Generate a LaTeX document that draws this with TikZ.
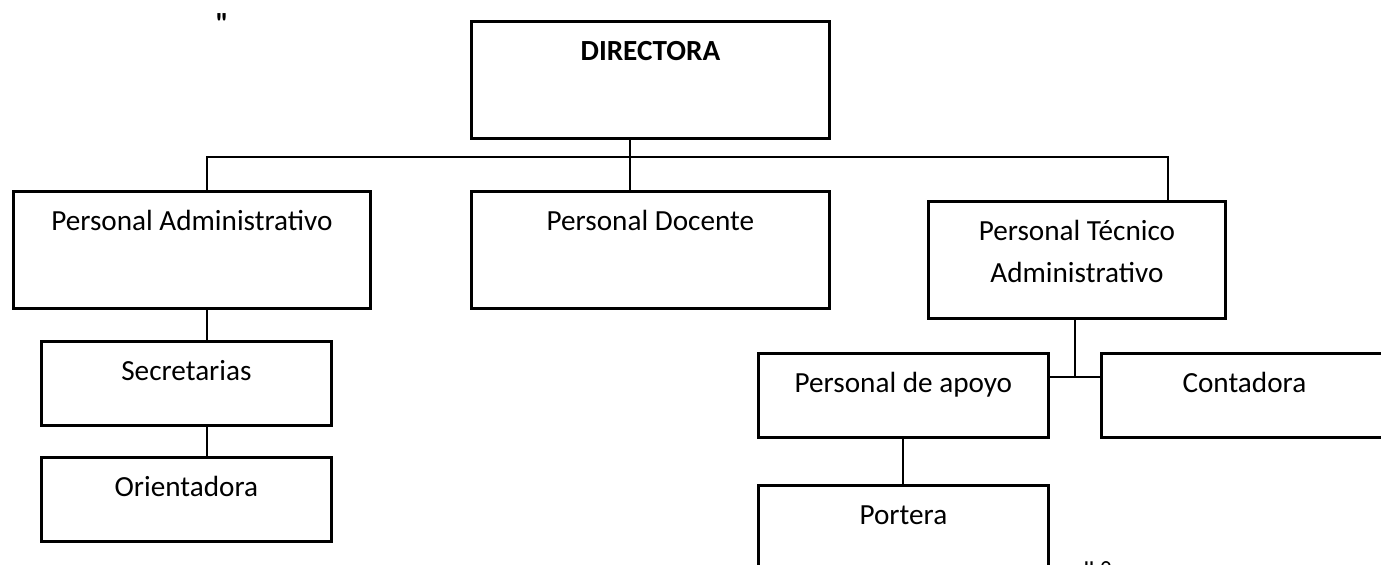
\documentclass[tikz,border=0pt]{standalone}
\usepackage{fontspec}
\setmainfont{Carlito}
\newfontfamily\rawfont{Carlito}
\usetikzlibrary{positioning,calc}

\begin{document}
\begin{tikzpicture}[x=0.5pt,y=-0.5pt,
    font=\fontsize{14.6}{21}\selectfont,
    box/.style={draw,line width=1.4pt,anchor=north west,inner sep=0pt,
      align=center,text height=19.5pt},
    tall/.style={box,text depth=39pt},
    short/.style={box,text depth=22.5pt},
    link/.style={line width=1pt}]
   \useasboundingbox (0,0) rectangle (1381,565);

   % boxes
   \node[tall,minimum width=179pt] (dir) at (470,20) {\textbf{DIRECTORA}};
   \node[tall,minimum width=178.5pt] (padm) at (12,190) {Personal Administrativo};
   \node[tall,minimum width=179pt] (pdoc) at (470,190) {Personal Docente};
   \node[box,minimum width=148.5pt,text height=40.5pt,text depth=18pt] (ptec) at (927,200)
      {Personal T\'ecnico\\Administrativo};
   \node[short,minimum width=145pt] (sec) at (40,340) {Secretarias};
   \node[short,minimum width=145pt] (ori) at (40,456) {Orientadora};
   \node[short,minimum width=145pt] (apoyo) at (757,352) {Personal de apoyo};
   \node[short,minimum width=143pt] (cont) at (1100,352) {Contadora};
   \node[short,minimum width=145pt] (port) at (757,484) {Portera};

   % stray marks
   \node[inner sep=0pt,font=\rawfont\bfseries\fontsize{14.6}{16}\selectfont] (qa) at (222,24) {\symbol{34}};
   \node[inner sep=0pt,anchor=base,font=\rawfont\fontsize{14.6}{16}\selectfont] (qb) at (1097,582) {\symbol{34} \symbol{"B0}};

   % connectors
   \coordinate (jA) at (207,157);
   \coordinate (jD) at (630,157);
   \coordinate (jT) at (1168,157);
   \coordinate (jC) at (1075,377);
   \draw[link] (padm.north -| jA) -- (jA) -- (jT) -- (ptec.north -| jT);
   \draw[link] (dir.south -| jD) -- (pdoc.north -| jD);
   \draw[link] (padm.south -| jA) -- (sec.north -| jA);
   \draw[link] (sec.south -| jA) -- (ori.north -| jA);
   \draw[link] (ptec.south -| jC) -- (jC);
   \draw[link] (apoyo.east |- jC) -- (cont.west |- jC);
   \draw[link] (apoyo.south) -- (port.north);
\end{tikzpicture}
\end{document}
